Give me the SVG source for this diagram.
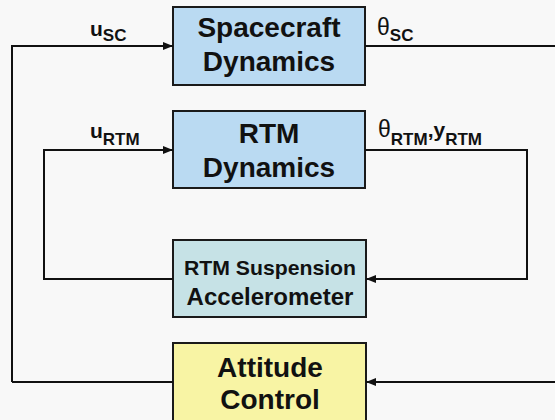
<svg xmlns="http://www.w3.org/2000/svg" width="555" height="420" viewBox="0 0 555 420">
<style>
.box{stroke:#1a1a1a;stroke-width:2}
.t{font-family:"Liberation Sans",Arial,sans-serif;font-weight:bold;fill:#111;text-anchor:middle}
.lbl{font-family:"Liberation Sans",Arial,sans-serif;font-weight:bold;fill:#111}
.th{font-family:"Liberation Sans",Arial,sans-serif;font-weight:normal;fill:#111}
.ln{fill:none;stroke:#111;stroke-width:2}
</style>
<defs>
<marker id="ah" markerWidth="10" markerHeight="10" refX="10" refY="5" orient="auto" markerUnits="userSpaceOnUse">
<path d="M0,1 L10,5 L0,9 Z" fill="#111"/>
</marker>
</defs>
<rect width="555" height="420" fill="#f8f8f8"/>
<g id="spacecraft">
<rect class="box" x="173" y="7" width="192" height="78" fill="#badaf2"/>
<text class="t" x="269" y="37" font-size="28">Spacecraft</text>
<text class="t" x="269" y="71" font-size="28">Dynamics</text>
</g>
<g id="rtm">
<rect class="box" x="173" y="111" width="192" height="77" fill="#badaf2"/>
<text class="t" x="269" y="143" font-size="28">RTM</text>
<text class="t" x="269" y="177" font-size="28">Dynamics</text>
</g>
<g id="accel">
<rect class="box" x="173" y="240" width="193" height="77" fill="#c6e2e6"/>
<text class="t" x="270" y="275" font-size="21" textLength="172" lengthAdjust="spacingAndGlyphs">RTM Suspension</text>
<text class="t" x="270" y="305" font-size="24">Accelerometer</text>
</g>
<g id="attitude">
<rect class="box" x="173" y="343" width="193" height="90" fill="#f8f4a4"/>
<text class="t" x="270" y="377" font-size="28">Attitude</text>
<text class="t" x="270" y="409" font-size="28">Control</text>
</g>
<g id="connectors">
<path class="ln" d="M12,382 L12,46 L173,46" marker-end="url(#ah)"/>
<path class="ln" d="M365,46 L555,46"/>
<path class="ln" d="M173,279 L44,279 L44,150 L173,150" marker-end="url(#ah)"/>
<path class="ln" d="M365,150 L527,150 L527,279 L366,279" marker-end="url(#ah)"/>
<path class="ln" d="M173,382 L12,382"/>
<path class="ln" d="M555,382 L366,382" marker-end="url(#ah)"/>
</g>
<g id="labels">
<text class="lbl" x="90" y="36" font-size="21">u<tspan font-size="17" dy="5">SC</tspan></text>
<text class="th" x="377" y="35" font-size="23">θ<tspan class="lbl" font-size="17" dy="6">SC</tspan></text>
<text class="lbl" x="90" y="138" font-size="21">u<tspan font-size="17" dy="7">RTM</tspan></text>
<text class="th" x="378" y="137" font-size="23">θ<tspan class="lbl" font-size="17" dy="8">RTM</tspan><tspan class="lbl" font-size="21" dy="-8">,y</tspan><tspan class="lbl" font-size="17" dy="8">RTM</tspan></text>
</g>
</svg>
